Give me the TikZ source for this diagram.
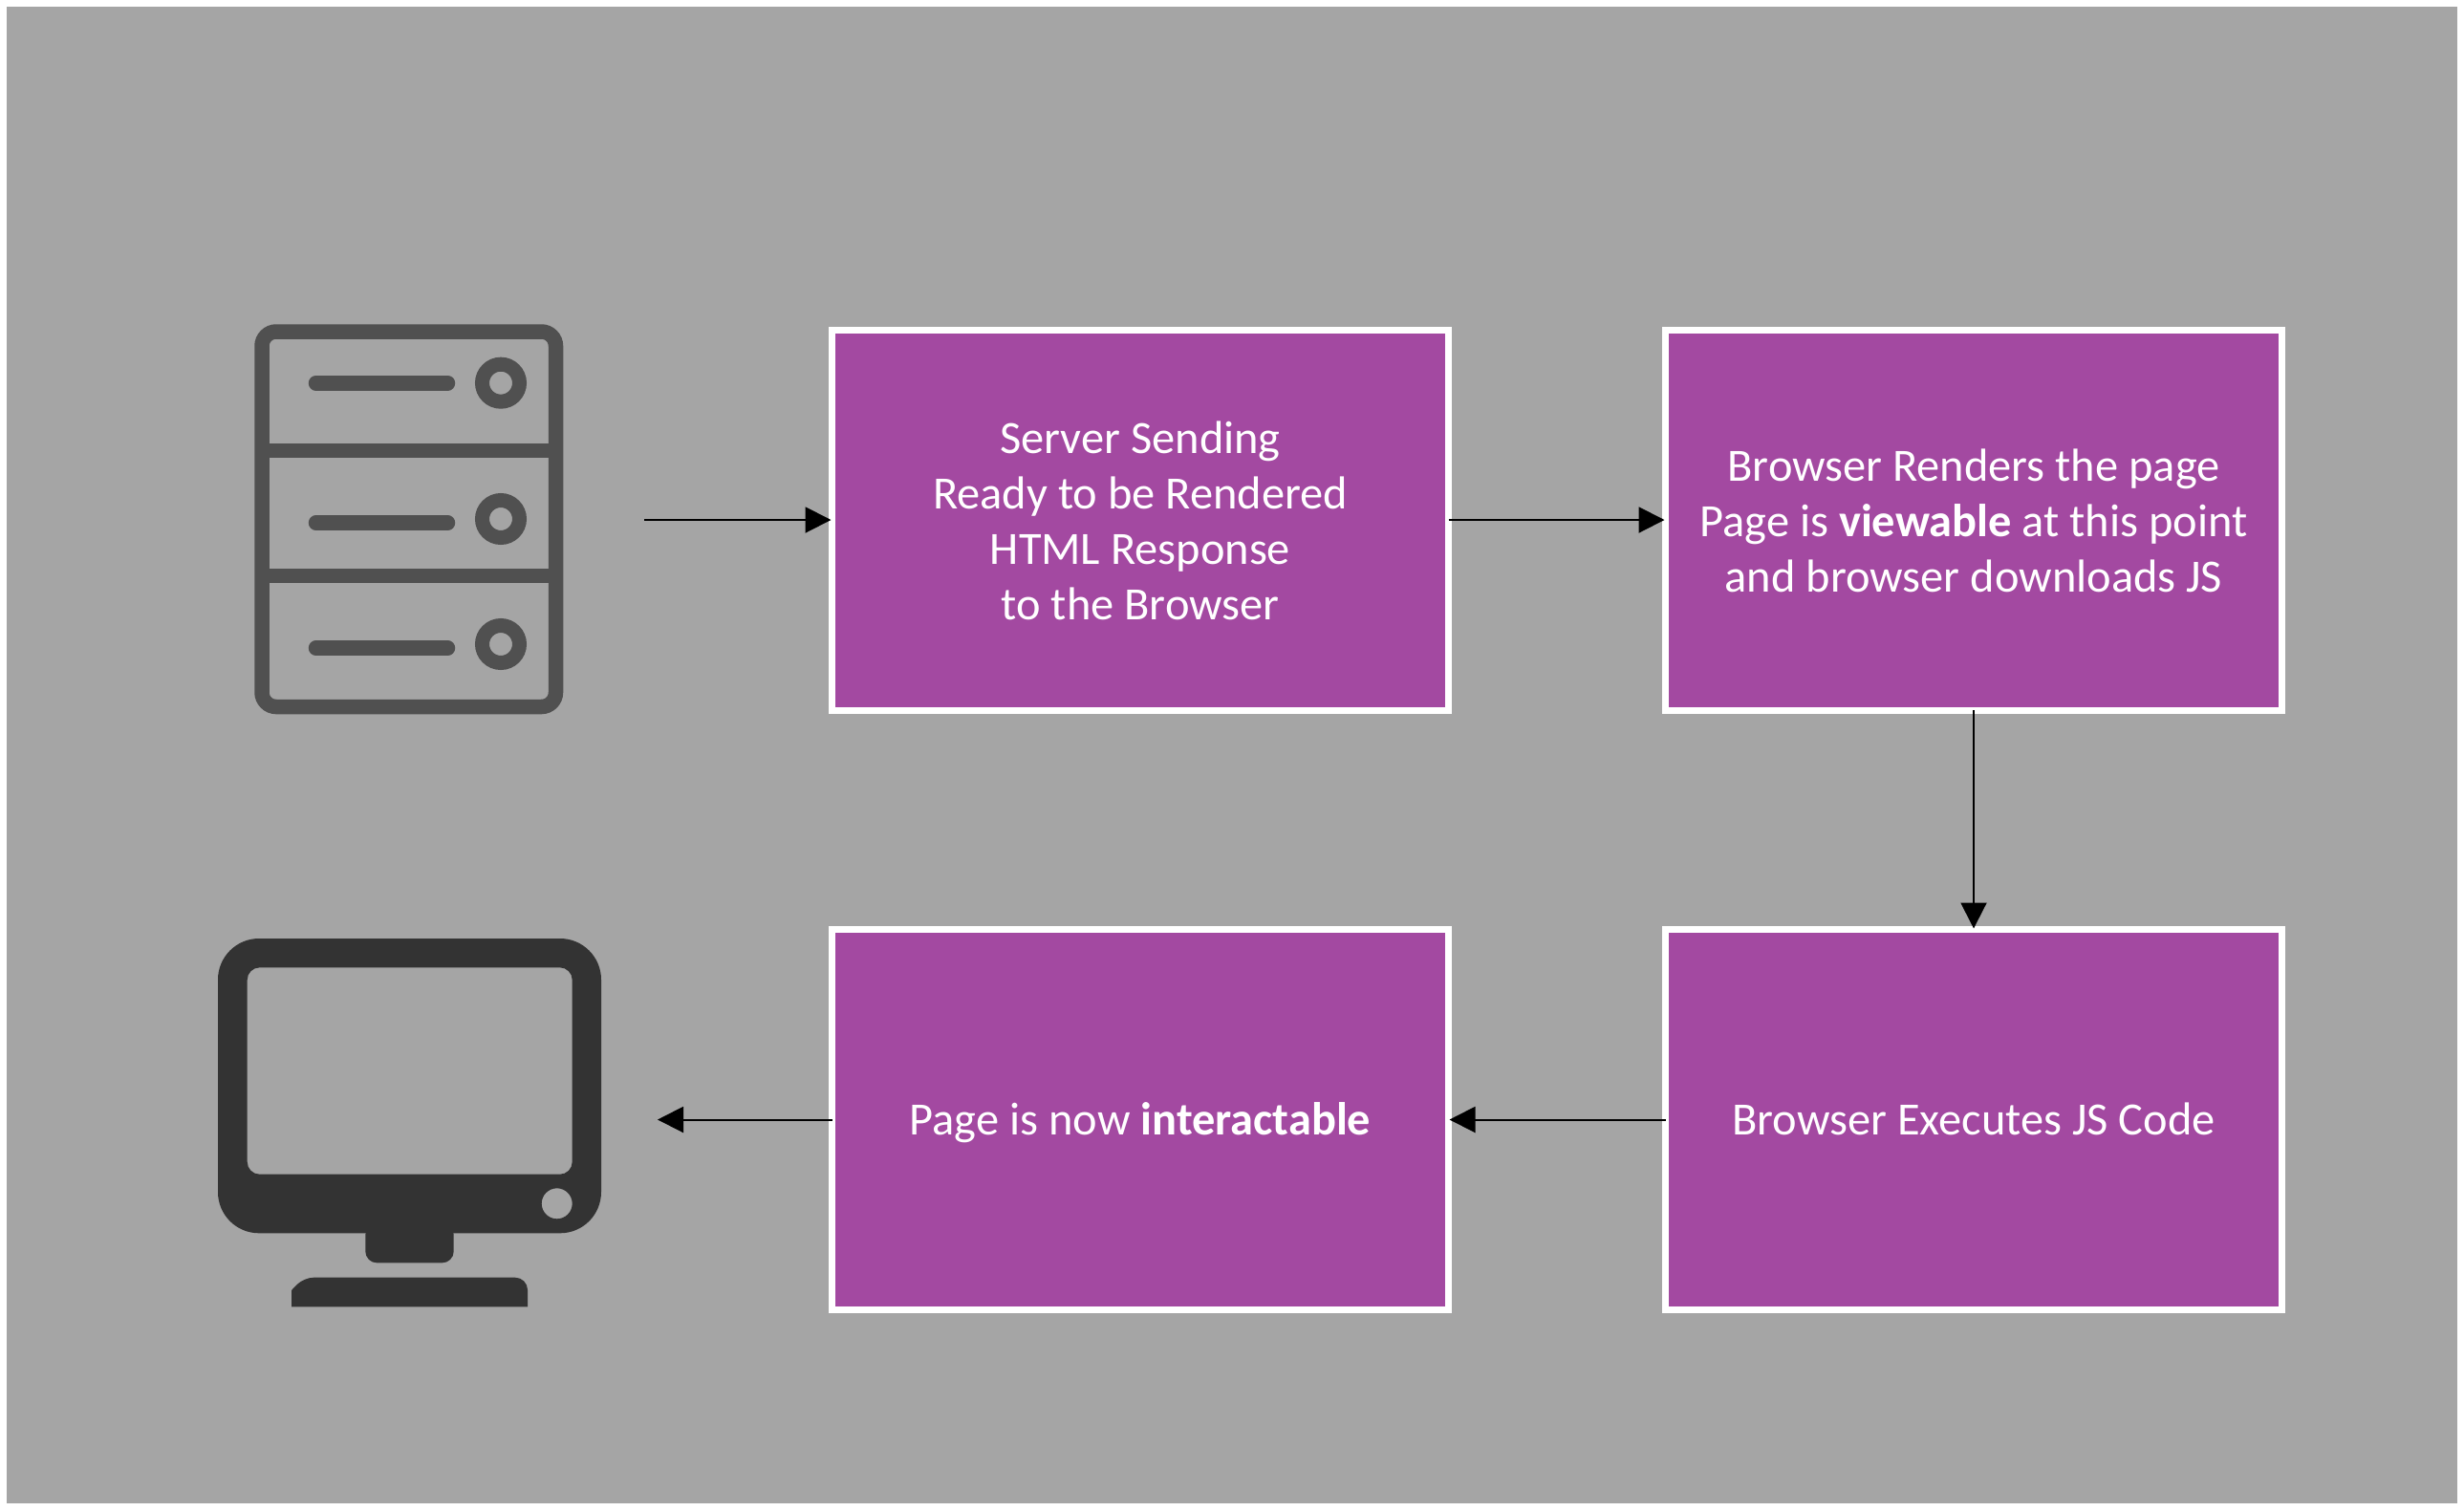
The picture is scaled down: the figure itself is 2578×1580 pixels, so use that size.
\documentclass[tikz,border=0pt]{standalone}
\usepackage{fontspec}
\setmainfont{Carlito}
\usetikzlibrary{arrows.meta}
\definecolor{pagegrey}{HTML}{A5A5A5}
\definecolor{boxpurple}{HTML}{A349A1}
\definecolor{servergrey}{HTML}{505050}
\definecolor{monitorgrey}{HTML}{333333}
\newcommand{\boxstrut}{\rule[-12.6pt]{0pt}{56.6pt}}
\newcommand{\topstrut}{\rule[-12.6pt]{0pt}{59.6pt}}
\tikzset{
  x=1pt,y=-1pt,
  stepbox/.style={rectangle,draw=white,line width=7pt,fill=boxpurple,text=white,
    minimum width=645pt,minimum height=398pt,inner sep=0pt,outer sep=0pt,align=center,
    font=\fontsize{48.4pt}{58pt}\selectfont},
  conn/.style={draw=black,line width=2pt,-{Triangle[length=27pt,width=27pt]},shorten >=1pt},
  srv/.style={draw=servergrey,line width=15.5pt},
  mon/.style={fill=monitorgrey}
}
\begin{document}
\begin{tikzpicture}
\useasboundingbox (0,0) rectangle (2578,1580);
\fill[white] (0,0) rectangle (2578,1580);
\fill[pagegrey] (7,7) rectangle (2571,1573);
% server icon
\draw[srv,rounded corners=15pt] (274,347) rectangle (581.5,739.5);
\draw[srv] (274,471.7) -- (581.5,471.7);
\draw[srv] (274,602.7) -- (581.5,602.7);
\foreach \py/\cy in {400.8/400.7,547.1/543,678.1/674}{
  \draw[srv,line cap=round] (330.5,\py) -- (468.5,\py);
  \draw[servergrey,line width=15pt] (524,\cy) circle (19.5);
}
% monitor icon
\fill[mon,even odd rule]
  [rounded corners=43pt] (228,982) rectangle (629,1290.3)
  [rounded corners=13pt] (258.7,1012.3) rectangle (598.7,1228.7)
  [sharp corners] (582.7,1259.3) circle (16);
\fill[mon,rounded corners=12pt] (382.3,1280) -- (382.3,1321.3) -- (474.7,1321.3) -- (474.7,1280) -- cycle;
\fill[mon,rounded corners=13pt] (305,1367.3) [sharp corners] -- (305,1350) [rounded corners=10pt] -- (318,1336.7) [rounded corners=13pt] -- (552,1336.7) [sharp corners] -- (552,1367.3) -- cycle;
% boxes
\node[stepbox] (send) at (1193,544) {\topstrut Server Sending\\Ready to be Rendered\\HTML Response\\to the Browser\boxstrut};
\node[stepbox] (render) at (2065,544) {\topstrut Browser Renders the page\\Page is \textbf{viewable} at this point\\and browser downloads JS\boxstrut};
\node[stepbox] (exec) at (2065,1171.5) {\boxstrut Browser Executes JS Code};
\node[stepbox] (inter) at (1193,1171.5) {\boxstrut Page is now \textbf{interactable}};
\coordinate (srvout) at (674,544);
\coordinate (monin) at (688,1171.5);
\draw[conn] (srvout) -- (send.west);
\draw[conn] (send.east) -- (render.west);
\draw[conn] (render.south) -- (exec.north);
\draw[conn] (exec.west) -- (inter.east);
\draw[conn,shorten >=0pt] (inter.west) -- (monin);
\end{tikzpicture}
\end{document}
